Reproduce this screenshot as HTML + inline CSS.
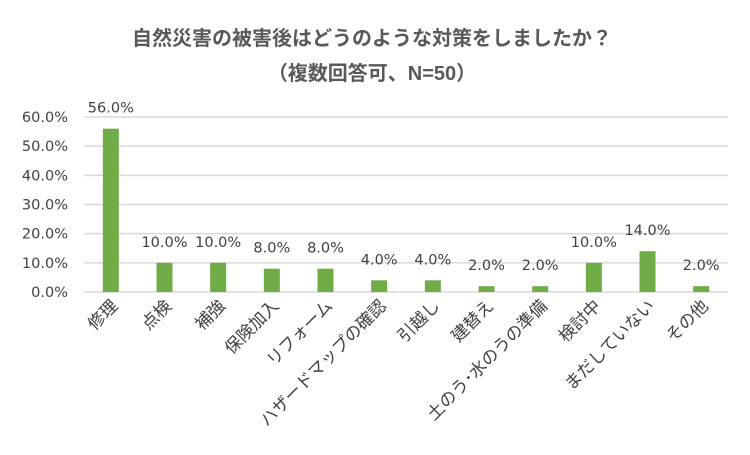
<!DOCTYPE html>
<html><head><meta charset="utf-8"><style>
body{margin:0;background:#fff}
svg text{font-family:"Liberation Sans","Noto Sans CJK JP",sans-serif;fill:#404040}
svg text.num{font-family:"DejaVu Sans","Liberation Sans",sans-serif}
</style></head><body>
<svg width="750" height="450">
<text x="372" y="45" text-anchor="middle" font-size="20" font-weight="bold" style="fill:#595959">自然災害の被害後はどうのような対策をしましたか？</text>
<text x="372" y="80" text-anchor="middle" font-size="20" font-weight="bold" style="fill:#595959">（複数回答可、N=50）</text>
<g id="grid"></g>
<g id="ylab"></g>
<g id="bars"></g>
<g id="xlab"></g>
</svg>
<script>
const categories=["修理","点検","補強","保険加入","リフォーム","ハザードマップの確認","引越し","建替え","土のう･水のうの準備","検討中","まだしていない","その他"];
const values=[56,10,10,8,8,4,4,2,2,10,14,2];
const ticks=[0,10,20,30,40,50,60];
const NS="http://www.w3.org/2000/svg";
const L=84,R=728,T=117,B=292,MAX=60;
const y=v=>B-(v/MAX)*(B-T);
const cw=(R-L)/categories.length;
const x=i=>L+cw*(i+0.5);
function mk(t,a,p){const e=document.createElementNS(NS,t);for(const k in a)e.setAttribute(k,a[k]);p.appendChild(e);return e;}
const grid=document.getElementById('grid'),ylab=document.getElementById('ylab'),bars=document.getElementById('bars'),xlab=document.getElementById('xlab');
ticks.forEach(t=>{
 const l=mk('line',{x1:L,x2:R,y1:y(t),y2:y(t),stroke:'#d9d9d9','stroke-width':1.5},grid);
 
 
 const tx=mk('text',{x:68,y:y(t)+5,'text-anchor':'end','font-size':14.5,class:'num'},ylab);
 tx.textContent=t.toFixed(1)+'%';
 
 
});
values.forEach((v,i)=>{
 const r=mk('rect',{x:x(i)-8,y:y(v),width:16,height:B-y(v),fill:'#70ad47'},bars);
 
 
 const t=mk('text',{x:x(i),y:y(v)-16,'text-anchor':'middle','font-size':14.5,class:'num'},bars);
 t.textContent=v.toFixed(1)+'%';
 
 
 const c=mk('text',{x:0,y:0,'text-anchor':'end','font-size':17,transform:`translate(${x(i)+8},${307}) rotate(-45)`},xlab);
 c.textContent=categories[i];
 
 
});
</script>
</body></html>
